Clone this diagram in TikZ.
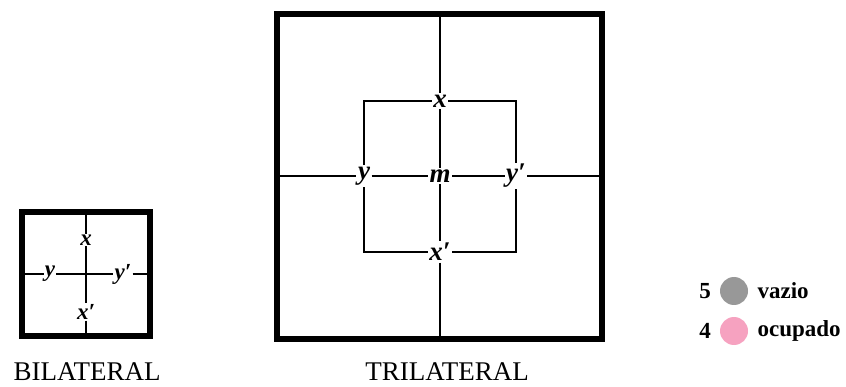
\documentclass[tikz,border=0pt]{standalone}
\usepackage{fontspec}
\setmainfont{Liberation Serif}
\usetikzlibrary{calc,positioning}
\definecolor{vaziogray}{RGB}{152,152,152}
\definecolor{ocupink}{RGB}{246,162,192}

\begin{document}
\begin{tikzpicture}[x = 1pt, y = -1pt,
    frame/.style = {draw, line width = 5.5pt},
    wire/.style = {draw, line width = 1.6pt},
    lab/.style = {fill = white, inner sep = 1pt, font = \fontsize{23}{23}\selectfont\bfseries\itshape},
    biglab/.style = {fill = white, inner sep = 1.5pt, font = \fontsize{27}{27}\selectfont\bfseries\itshape},
    title/.style = {anchor = base, inner sep = 0pt, font = \fontsize{27}{27}\selectfont},
    key/.style = {font = \fontsize{23}{23}\selectfont\bfseries}]
            \useasboundingbox(0,0)rectangle(846,387);
            % bilateral
            \path[frame](22,212)rectangle(150,336);
            \coordinate(btop)at(86,212);
            \coordinate(bbot)at(86,336);
            \coordinate(blft)at(22,274);
            \coordinate(brgt)at(150,274);
            \node[lab](bx)at(86,240){x};
            \node[lab](bxp)at(86,312){x′};
            \node[lab](by)at(50,274){y};
            \node[lab](byp)at(123,274){y′};
            \path[wire](btop)--(bx)--(bxp)--(bbot);
            \path[wire](blft)--(by)--(byp)--(brgt);
            \node[title](bname)at(87,380){BILATERAL};
            % trilateral
            \path[frame](277,14)rectangle(602,339);
            \coordinate(ttop)at(440,14);
            \coordinate(tbot)at(440,339);
            \coordinate(tlft)at(277,176);
            \coordinate(trgt)at(602,176);
            \node[biglab](tm)at(440,176){m};
            \node[biglab](tx)at(440,101){x};
            \node[biglab](txp)at(440,252){x′};
            \node[biglab](ty)at(364,176){y};
            \node[biglab](typ)at(516,176){y′};
            \path[wire](ttop)--(tx)--(tm)--(txp)--(tbot);
            \path[wire](tlft)--(ty)--(tm)--(typ)--(trgt);
            \path[wire](ty)|-(tx)-|(typ)|-(txp)-|(ty);
            \node[title](tname)at(447,380){TRILATERAL};
            % legenda
            \node[key](n5)at(705,291){5};
            \path[fill = vaziogray](734,291)circle(14);
            \node[key, anchor = west](vz)at(754,291){vazio};
            \node[key](n4)at(705,331){4};
            \path[fill = ocupink](734,331)circle(14);
            \node[key, anchor = west](oc)at(754,331){ocupado};
        \end{tikzpicture}
\end{document}
